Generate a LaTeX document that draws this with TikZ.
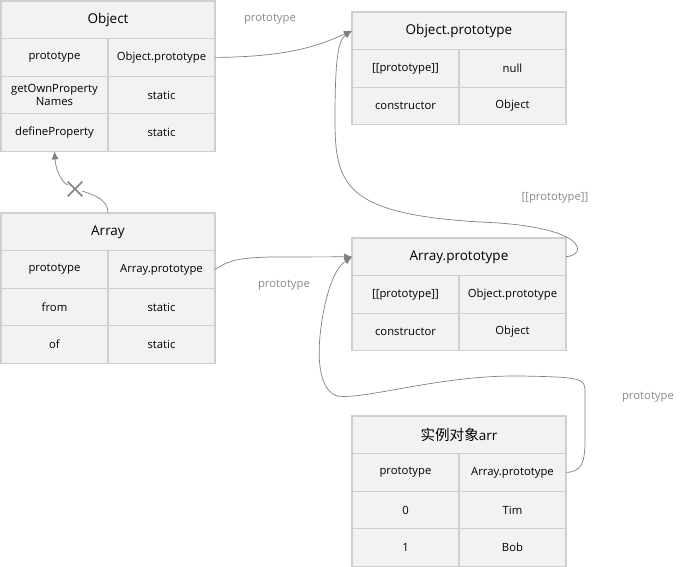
\documentclass[tikz,border=0pt]{standalone}
\usepackage{fontspec}
\setmainfont{Open Sans}
\newfontfamily\cjk[Scale=1.08]{Noto Sans CJK SC}
\usetikzlibrary{arrows.meta,shapes.misc}
\definecolor{cellfill}{HTML}{F2F2F2}
\definecolor{cellline}{HTML}{CFCFCF}
\definecolor{linkgray}{HTML}{808080}
\definecolor{lblgray}{HTML}{8A8A8A}
\begin{document}
\begin{tikzpicture}[
  x=1pt, y=-1pt,
  cell/.style={draw=cellline, fill=cellfill, line width=1.1pt, minimum height=37.6pt,
    inner sep=1pt, outer sep=0pt, align=center, anchor=north west,
    font=\fontsize{11.3}{13}\selectfont},
  head/.style={cell, minimum width=214pt, font=\fontsize{13.5}{16}\selectfont},
  half/.style={cell, minimum width=107pt},
  link/.style={draw=linkgray, line width=0.7pt, -{Latex[length=8pt,width=7pt]}},
  lbl/.style={text=lblgray, font=\fontsize{11.3}{13}\selectfont}
]
\useasboundingbox (0,0) rectangle (683,567);

% Object
\node[head] (objT) at (1,1) {Object};
\node[half] (obj1k) at (objT.south west) {prototype};
\node[half] (obj1v) at (obj1k.north east) {Object.prototype};
\node[half] (obj2k) at (obj1k.south west) {getOwnProperty\\Names};
\node[half] (obj2v) at (obj2k.north east) {static};
\node[half] (obj3k) at (obj2k.south west) {defineProperty};
\node[half] (obj3v) at (obj3k.north east) {static};

% Object.prototype
\node[head] (opT) at (352,12) {Object.prototype};
\node[half] (op1k) at (opT.south west) {[[prototype]]};
\node[half] (op1v) at (op1k.north east) {null};
\node[half] (op2k) at (op1k.south west) {constructor};
\node[half] (op2v) at (op2k.north east) {Object};

% Array
\node[head] (arT) at (1,213) {Array};
\node[half] (ar1k) at (arT.south west) {prototype};
\node[half] (ar1v) at (ar1k.north east) {Array.prototype};
\node[half] (ar2k) at (ar1k.south west) {from};
\node[half] (ar2v) at (ar2k.north east) {static};
\node[half] (ar3k) at (ar2k.south west) {of};
\node[half] (ar3v) at (ar3k.north east) {static};

% Array.prototype
\node[head] (apT) at (352,238) {Array.prototype};
\node[half] (ap1k) at (apT.south west) {[[prototype]]};
\node[half] (ap1v) at (ap1k.north east) {Object.prototype};
\node[half] (ap2k) at (ap1k.south west) {constructor};
\node[half] (ap2v) at (ap2k.north east) {Object};

% instance arr
\node[head] (inT) at (352,416) {{\cjk 实例对象}arr};
\node[half] (in1k) at (inT.south west) {prototype};
\node[half] (in1v) at (in1k.north east) {Array.prototype};
\node[half] (in2k) at (in1k.south west) {0};
\node[half] (in2v) at (in2k.north east) {Tim};
\node[half] (in3k) at (in2k.south west) {1};
\node[half] (in3v) at (in3k.north east) {Bob};

% links
\draw[link] (obj1v.east) .. controls (290,57) and (320,45) .. (opT.west);
\draw[link] (apT.east) .. controls (588,255) and (588,226) .. (480,222)
  .. controls (345,214) and (335,185) .. (335,120)
  .. controls (335,60) and (338,40) .. (opT.west);
\draw[link] (ar1v.east) .. controls (230,260) and (238,258) .. (270,257) -- (apT.west);
\draw[link] (in1v.east) .. controls (582,472) and (585,462) .. (585,440) -- (585,390)
  .. controls (585,378) and (578,377) .. (520,376)
  .. controls (440,375) and (365,400) .. (337,396)
  .. controls (315,388) and (318,345) .. (322,320)
  .. controls (327,290) and (335,268) .. (apT.west);
\node[draw=linkgray, cross out, line width=1.6pt, minimum size=13pt, inner sep=0pt] (nox) at (75,189) {};
\draw[link] (arT.north) .. controls (108,200) and (95,195) .. (nox)
  .. controls (62,182) and (56,172) .. (obj3k.south);

% labels
\node[lbl] (l1) at (270,19) {prototype};
\node[lbl] (l2) at (555,198) {[[prototype]]};
\node[lbl] (l3) at (284,285) {prototype};
\node[lbl] (l4) at (648,397) {prototype};
\end{tikzpicture}
\end{document}
